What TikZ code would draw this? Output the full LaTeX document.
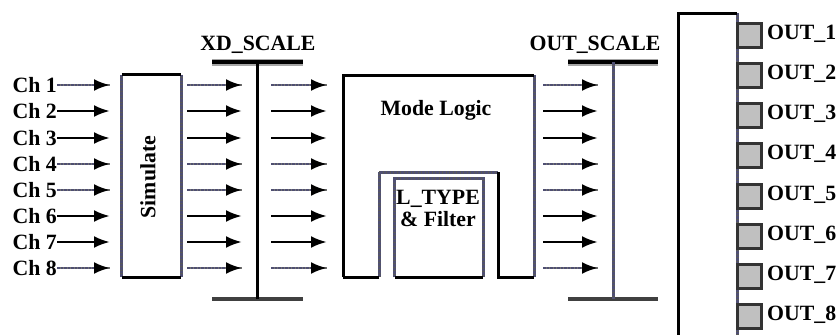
\documentclass[tikz,border=0pt]{standalone}
\usepackage{fontspec}
\setmainfont{Liberation Serif}
\usetikzlibrary{arrows.meta}
\definecolor{specky}{RGB}{80,80,115}
\definecolor{boxfill}{RGB}{192,192,192}
\tikzset{
  lbl/.style={font=\fontsize{21.8}{22}\selectfont\bfseries, inner sep=0pt},
  tipstyle/.style={-{Latex[length=16pt,width=12pt,color=black]}},
  solidarr/.style={draw=black, line width=2.8pt, tipstyle},
  speckarr/.style={draw=specky, line width=2.8pt, dash pattern=on 2.5pt off 1pt,
    preaction={draw=black!55, line width=2.8pt, solid, -}, tipstyle},
  blk/.style={line width=3pt, draw=black},
  spk/.style={line width=3pt, draw=specky, dash pattern=on 2.5pt off 1pt,
    preaction={draw=black!65, line width=3pt, solid}},
  shade/.style={line width=7pt, draw=black!35},
  botbar/.style={line width=4pt, draw=black!75},
  outbox/.style={draw=black!80, line width=3pt, fill=boxfill, minimum width=24pt, minimum height=24pt, inner sep=0pt},
}
\begin{document}
\begin{tikzpicture}[x=1pt,y=-1pt]
\clip (0,0) rectangle (839,335);
\fill[white] (0,0) rectangle (839,335);

% Simulate box
\node[draw=none, minimum width=59pt, minimum height=202pt, inner sep=0pt] (sim) at (151.5,176) {};
\draw[spk] (sim.north west) -- (sim.south west);
\draw[spk] (sim.north east) -- (sim.south east);
\draw[blk] (sim.north west) -- (sim.north east);
\draw[blk] (sim.south west) -- (sim.south east);
\node[lbl, rotate=90] (simtxt) at (148,177) {Simulate};

% XD_SCALE bar
\coordinate (xdtop) at (257,62);
\coordinate (xdbot) at (257,299);
\coordinate (xdtl) at (212,62);
\coordinate (xdtr) at (303,62);
\coordinate (xdbl) at (212,299);
\coordinate (xdbr) at (303,299);
\draw[shade] (xdtl) -- (xdtr);
\draw[line width=3.2pt] (xdtl) -- (xdtr);
\draw[botbar] (xdbl) -- (xdbr);
\draw[line width=3pt] (xdtop) -- (xdbot);
\node[lbl] (xdlbl) at (258,45) {XD\_SCALE};

% OUT_SCALE bar
\coordinate (ostop) at (613,62);
\coordinate (osbot) at (613,299);
\coordinate (ostl) at (568,62);
\coordinate (ostr) at (658,62);
\coordinate (osbl) at (568,299);
\coordinate (osbr) at (658,299);
\draw[shade] (ostl) -- (ostr);
\draw[line width=3.2pt] (ostl) -- (ostr);
\draw[botbar] (osbl) -- (osbr);
\draw[spk] (ostop) -- (osbot);
\node[lbl] (oslbl) at (595,45) {OUT\_SCALE};

% Mode Logic outline
\coordinate (m1) at (343,277);
\coordinate (m2) at (343,75);
\coordinate (m3) at (534,75);
\coordinate (m4) at (534,277);
\coordinate (m5) at (498,277);
\coordinate (m6) at (498,172);
\coordinate (m7) at (379,172);
\coordinate (m8) at (379,277);
\draw[spk] (m3) -- (m4);
\draw[spk] (m7) -- (m8);
\draw[spk] (m6) -- (m7);
\draw[blk] (m1) -- (m2) -- (m3);
\draw[blk] (m4) -- (m5) -- (m6);
\draw[blk] (m8) -- (m1);
\node[lbl] (ml) at (436,110) {Mode Logic};

% L_TYPE & Filter box
\node[draw=none, minimum width=88pt, minimum height=98pt, inner sep=0pt] (lt) at (439,228) {};
\draw[spk] (lt.south west) -- (lt.north west) -- (lt.north east) -- (lt.south east);
\draw[blk] (lt.south west) -- (lt.south east);
\node[lbl, align=center] (lttxt) at (438,208) {L\_TYPE\\\& Filter};

% Right big box
\coordinate (bb1) at (678,345);
\coordinate (bb2) at (678,13);
\coordinate (bb3) at (737,13);
\coordinate (bb4) at (737,345);
\draw[spk] (bb3) -- (bb4);
\draw[blk] (bb1) -- (bb2) -- (bb3);

% Output squares and labels
\foreach \i/\y in {1/35,2/75,3/115,4/155,5/196,6/236,7/276,8/316}{
  \node[outbox] (sq\i) at (749.5,\y) {};
  \node[lbl, anchor=west] (out\i) at (767,\y-1) {OUT\_\i};
}

% Channels and arrows
\foreach \i/\y/\st in {1/85/speckarr,2/111/solidarr,3/138/solidarr,4/164/speckarr,5/190/speckarr,6/216/solidarr,7/242/solidarr,8/268/speckarr}{
  \node[lbl, anchor=east] (ch\i) at (57,\y) {Ch \i};
  \coordinate (a\i) at (110,\y);
  \coordinate (b\i s) at (187,\y);
  \coordinate (b\i e) at (242,\y);
  \coordinate (c\i s) at (271,\y);
  \coordinate (c\i e) at (327,\y);
  \coordinate (d\i s) at (543,\y);
  \coordinate (d\i e) at (598,\y);
  \draw[\st] (ch\i.east) -- (a\i);
  \draw[\st] (b\i s) -- (b\i e);
  \draw[\st] (c\i s) -- (c\i e);
  \draw[\st] (d\i s) -- (d\i e);
}
\end{tikzpicture}
\end{document}
